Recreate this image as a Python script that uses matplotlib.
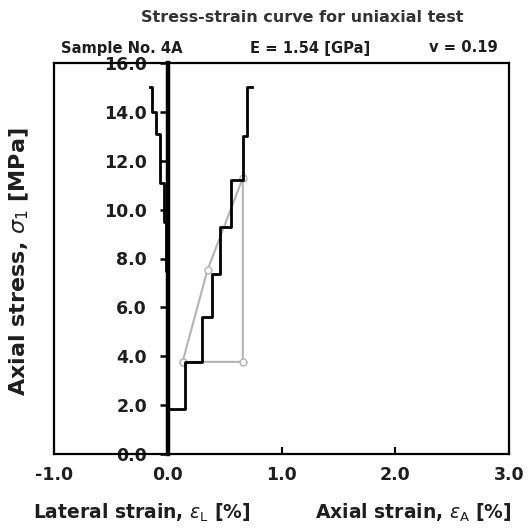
import matplotlib
matplotlib.use("Agg")
import matplotlib.pyplot as plt

plt.rcParams['font.family'] = ['DejaVu Sans']
plt.rcParams['mathtext.fontset'] = 'dejavusans'

# Data
axial_strain = [0.0, 0.15, 0.30, 0.39, 0.46, 0.56, 0.66, 0.70, 0.74]
axial_stress = [1.85, 3.75, 5.6, 7.35, 9.3, 11.2, 13.0, 15.0, 15.0]
lateral_strain = [-0.16, -0.14, -0.105, -0.07, -0.035, -0.015, 0.0]
lateral_stress = [15.0, 14.0, 13.1, 11.1, 9.5, 7.5, 0.0]
modulus_strain = [0.13, 0.35, 0.66, 0.66, 0.13]
modulus_stress = [3.77, 7.54, 11.3, 3.77, 3.77]
x_ticks = [-1.0, 0.0, 1.0, 2.0, 3.0]
y_ticks = [0.0, 2.0, 4.0, 6.0, 8.0, 10.0, 12.0, 14.0, 16.0]

txt = '#1e1e1e'
fig = plt.figure(figsize=(5.32, 5.29), dpi=100)
ax = fig.add_axes([54/532, 1-454/529, 455/532, 391/529])
ax.set_xlim(-1, 3)
ax.set_ylim(0, 16)

ax.plot(modulus_strain, modulus_stress, color='#b4b4b4', lw=1.5, marker='o',
        ms=5, mfc='white', mec='#b4b4b4', zorder=2)
ax.plot(axial_strain, axial_stress, color='black', lw=2, drawstyle='steps-post', zorder=3)
ax.plot(lateral_strain, lateral_stress, color='black', lw=2, drawstyle='steps-post', zorder=3)

for s in ax.spines.values():
    s.set_linewidth(1.6)
ax.set_yticks([])
ax.set_xticks(x_ticks)
ax.set_xticklabels([f"{v:.1f}" for v in x_ticks], fontsize=12.5, fontweight='bold', color=txt)
ax.tick_params(axis='x', direction='in', length=5, width=1.5, pad=9)

loc = (0 - ax.get_xlim()[0]) / (ax.get_xlim()[1] - ax.get_xlim()[0])
sec = ax.secondary_yaxis(loc)
sec.spines['left'].set_linewidth(3.2)
sec.set_yticks(y_ticks)
sec.set_yticklabels([f"{v:.1f}" for v in y_ticks], fontsize=12.5, fontweight='bold', color=txt)
sec.tick_params(axis='y', direction='out', length=6, width=1.8, pad=9)

fig.text(302/532, 1-17/529, "Stress-strain curve for uniaxial test", ha='center', va='center',
         fontsize=11.5, fontweight='bold', color='#333333')
fig.text(61/532, 1-48/529, "Sample No. 4A", ha='left', va='center', fontsize=10.6, fontweight='bold', color=txt)
fig.text(310/532, 1-48/529, "E = 1.54 [GPa]", ha='center', va='center', fontsize=10.6, fontweight='bold', color=txt)
fig.text(498/532, 1-48/529, "v = 0.19", ha='right', va='center', fontsize=10.6, fontweight='bold', color=txt)

fig.text(19/532, 1-262/529, r"Axial stress, $\sigma_1$ [MPa]", rotation=90, ha='center', va='center',
         fontsize=16, fontweight='bold', color=txt)
fig.text(142/532, 1-513/529, r"Lateral strain, $\varepsilon_{\rm L}$ [%]", ha='center', va='center',
         fontsize=13.5, fontweight='bold', color=txt)
fig.text(315/532, 1-513/529, r"Axial strain, $\varepsilon_{\rm A}$ [%]", ha='left', va='center',
         fontsize=13.5, fontweight='bold', color=txt)

fig.savefig("out.png", dpi=100)
